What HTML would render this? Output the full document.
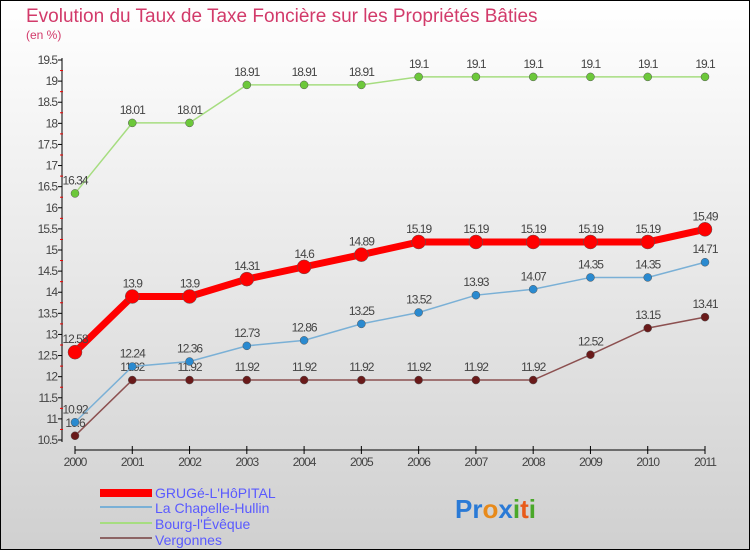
<!DOCTYPE html>
<html><head><meta charset="utf-8"><style>
body{margin:0;width:750px;height:550px;overflow:hidden;font-family:"Liberation Sans",sans-serif}
#wrap{position:absolute;left:0;top:0;width:748px;height:548px;border:1px solid #000;background:linear-gradient(#ffffff,#d0d0d0)}
</style></head><body>
<div id="wrap">
<svg id="chart" width="750" height="550" style="position:absolute;left:-1px;top:-1px">
<text x="26" y="22" font-size="19" fill="#d23a6a">Evolution du Taux de Taxe Foncière sur les Propriétés Bâties</text>
<text x="26" y="39" font-size="12" fill="#d23a6a">(en %)</text>
<g id="axes"></g><g id="series"></g>
<g>
<rect x="100" y="489" width="52" height="8" fill="#f00"/>
<text x="155" y="498" font-size="14" fill="#5a5aff">GRUGé-L'HôPITAL</text>
<rect x="100" y="506" width="52" height="2" fill="#7ab0d6"/>
<text x="155" y="513" font-size="14" fill="#5a5aff">La Chapelle-Hullin</text>
<rect x="100" y="522" width="52" height="2" fill="#a6dd80"/>
<text x="155" y="529" font-size="14" fill="#5a5aff">Bourg-l'Évêque</text>
<rect x="100" y="537" width="52" height="2" fill="#8c6464"/>
<text x="155" y="545" font-size="14" fill="#5a5aff">Vergonnes</text>
</g>
<text x="455" y="518" font-size="26" font-weight="bold"><tspan fill="#2a7ad6">Pr</tspan><tspan fill="#e88a1a">o</tspan><tspan fill="#2a7ad6">x</tspan><tspan fill="#4aa82a">i</tspan><tspan fill="#e85a1a">t</tspan><tspan fill="#4aa82a">i</tspan></text>
</svg></div>
<script>
const years=[2000,2001,2002,2003,2004,2005,2006,2007,2008,2009,2010,2011];
const grugeValues=[12.58,13.9,13.9,14.31,14.6,14.89,15.19,15.19,15.19,15.19,15.19,15.49];
const chapelleValues=[10.92,12.24,12.36,12.73,12.86,13.25,13.52,13.93,14.07,14.35,14.35,14.71];
const bourgValues=[16.34,18.01,18.01,18.91,18.91,18.91,19.1,19.1,19.1,19.1,19.1,19.1];
const vergonnesValues=[10.6,11.92,11.92,11.92,11.92,11.92,11.92,11.92,11.92,12.52,13.15,13.41];
const yTicks=[10.5,11,11.5,12,12.5,13,13.5,14,14.5,15,15.5,16,16.5,17,17.5,18,18.5,19,19.5];
const NS="http://www.w3.org/2000/svg";
const x=i=>75+i*(630/11);
const y=v=>440-(v-10.5)*(380/9);
function mk(t,a,p){const e=document.createElementNS(NS,t);for(const k in a)e.setAttribute(k,a[k]);p.appendChild(e);return e;}
const ax=document.getElementById('axes');
let l=mk('line',{x1:62,y1:58,x2:62,y2:442,stroke:'#000'},ax);

l=mk('line',{x1:75,y1:450,x2:705,y2:450,stroke:'#000'},ax);

yTicks.forEach((v,i)=>{
 mk('line',{x1:58,y1:y(v),x2:62,y2:y(v),stroke:'#000'},ax);
 if(i<yTicks.length-1)mk('line',{x1:60,y1:y(v+0.25),x2:63,y2:y(v+0.25),stroke:'#e00'},ax);
 const t=mk('text',{x:57,y:y(v)+4,'font-size':12,fill:'#444','text-anchor':'end','letter-spacing':'-1'},ax);
 t.textContent=v;
 
 
});
years.forEach((yr,i)=>{
 mk('line',{x1:x(i),y1:446,x2:x(i),y2:454,stroke:'#000'},ax);
 const t=mk('text',{x:x(i),y:466,'font-size':12,fill:'#444','text-anchor':'middle','letter-spacing':'-1'},ax);
 t.textContent=yr;
 
 
});
const sg=document.getElementById('series');
function series(vals,color,dot,w,r,name){
 const g=mk('g',{},sg);
 
 
 mk('polyline',{points:vals.map((v,i)=>x(i)+','+y(v)).join(' '),fill:'none',stroke:color,'stroke-width':w},g);
 vals.forEach((v,i)=>{
  const c=mk('circle',{cx:x(i),cy:y(v),r:r,fill:dot,stroke:'#555','stroke-width':0.5},g);
  
  
  const t=mk('text',{x:x(i),y:y(v)-9,'font-size':12,fill:'#444','text-anchor':'middle','letter-spacing':'-1'},g);
  t.textContent=v;
  
  
 });
}
series(bourgValues,'#a6dd80','#6cc83a',1.5,4,'bourg');
series(vergonnesValues,'#8c5050','#6a1a1a',1.5,4,'vergonnes');
series(chapelleValues,'#7ab0d6','#2a8ad0',1.5,4,'chapelle');
series(grugeValues,'#ff0000','#ff0000',7,7,'gruge');
</script>
</body></html>
